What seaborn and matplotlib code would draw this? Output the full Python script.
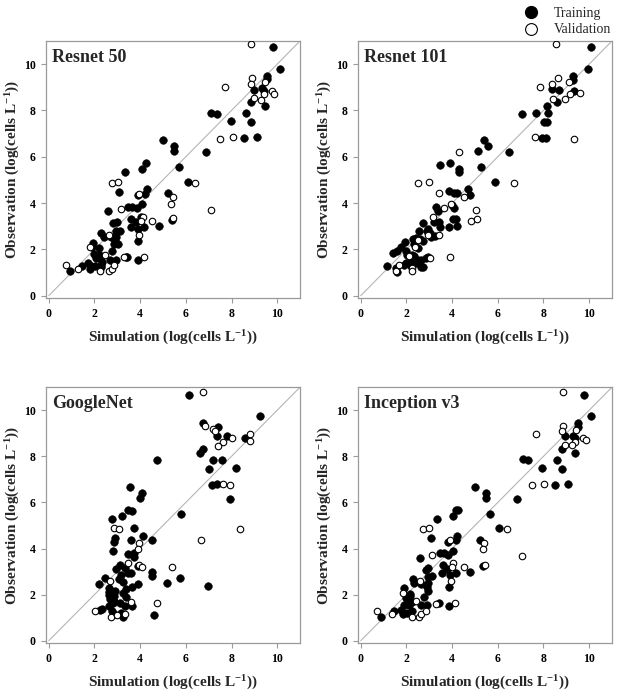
import matplotlib
matplotlib.use("Agg")
import matplotlib.pyplot as plt
from matplotlib.lines import Line2D
import seaborn as sns
import pandas as pd

# ---------------- data: (simulation, observation) ----------------
models = ["Resnet 50", "Resnet 101", "GoogleNet", "Inception v3"]

resnet50_train = [(9.83,10.72),(10.13,9.80),(9.54,9.49),(9.54,9.35),(8.98,8.89),(9.32,8.95),(9.42,8.83),(8.84,8.37),(9.45,8.18),(7.12,7.91),(7.35,7.86),(8.63,7.91),(7.98,7.53),(8.84,7.50),(8.55,6.81),(9.11,6.84),(5.01,6.71),(5.50,6.46),(5.50,6.23),(6.89,6.19),(4.27,5.71),(4.08,5.45),(3.35,5.34),(5.71,5.55),(6.10,4.93),(3.09,4.49),(4.28,4.59),(4.22,4.40),(3.89,4.34),(5.23,4.43),(4.06,3.94),(3.48,3.84),(3.64,3.84),(3.86,3.78),(2.61,3.64),(3.62,3.32),(4.02,3.39),(3.80,3.16),(5.40,3.28),(4.82,3.03),(2.99,3.17),(2.81,3.12),(3.58,2.96),(3.91,2.90),(4.19,2.95),(3.10,2.81),(2.96,2.79),(2.30,2.71),(2.40,2.54),(2.72,2.53),(2.96,2.52),(2.91,2.35),(2.87,2.22),(3.01,2.24),(3.89,2.35),(1.92,2.28),(1.89,2.12),(2.20,2.05),(2.77,1.92),(1.97,1.80),(2.18,1.77),(2.30,1.73),(2.05,1.63),(2.26,1.64),(2.66,1.56),(2.93,1.56),(3.36,1.67),(3.44,1.68),(3.92,1.56),(2.33,1.46),(2.30,1.34),(1.72,1.39),(1.87,1.27),(2.03,1.30),(1.47,1.30),(1.82,1.17),(0.92,1.07),(2.30,1.22)]
resnet50_val = [(8.87,10.87),(8.90,9.39),(8.87,9.13),(9.48,9.21),(7.72,9.03),(9.78,8.84),(9.87,8.73),(9.42,8.69),(8.98,8.53),(9.29,8.47),(7.50,6.78),(8.07,6.85),(2.75,4.88),(3.01,4.92),(6.42,4.86),(3.95,4.40),(5.45,4.26),(5.37,3.98),(3.17,3.75),(7.09,3.72),(4.11,3.41),(4.03,3.23),(4.53,3.23),(5.46,3.34),(2.62,2.60),(3.96,2.60),(1.82,2.11),(2.45,1.76),(3.31,1.66),(4.15,1.67),(0.74,1.34),(1.27,1.17),(2.26,1.07),(2.63,1.07),(2.75,1.17),(2.87,1.34)]

resnet101_train = [(10.10,10.72),(9.96,9.80),(9.29,9.49),(9.30,9.31),(8.39,8.93),(8.68,8.87),(9.35,8.83),(8.57,8.36),(8.16,8.18),(7.04,7.86),(7.69,7.91),(8.19,7.89),(8.04,7.50),(8.14,7.51),(7.94,6.81),(8.11,6.83),(5.41,6.71),(5.56,6.45),(5.15,6.25),(6.50,6.19),(3.46,5.66),(3.89,5.71),(4.28,5.45),(4.31,5.34),(5.25,5.55),(5.86,4.93),(4.68,4.60),(3.87,4.50),(4.07,4.42),(4.20,4.42),(4.78,4.33),(3.98,3.90),(4.09,3.77),(3.28,3.82),(3.38,3.64),(4.02,3.29),(4.16,3.32),(2.74,3.12),(3.21,3.16),(3.43,3.20),(3.49,2.97),(3.87,2.96),(4.22,3.03),(2.95,2.89),(2.88,2.79),(2.54,2.80),(3.03,2.71),(3.09,2.53),(3.26,2.57),(2.42,2.50),(2.29,2.43),(2.61,2.46),(2.71,2.35),(2.35,2.25),(2.52,2.05),(1.93,2.31),(1.78,2.11),(1.60,1.92),(1.42,1.83),(1.97,1.92),(2.03,1.76),(2.23,1.77),(2.23,1.56),(2.35,1.70),(2.84,1.63),(2.94,1.68),(2.64,1.56),(2.52,1.52),(2.40,1.42),(2.16,1.42),(1.91,1.32),(1.98,1.42),(1.15,1.27),(1.55,1.20),(1.60,1.04),(2.64,1.24),(2.72,1.24),(2.20,1.30)]
resnet101_val = [(8.53,10.87),(8.64,9.39),(9.11,9.21),(8.36,9.13),(7.84,9.03),(9.16,8.69),(9.58,8.74),(8.40,8.50),(8.92,8.49),(7.65,6.87),(9.32,6.78),(4.29,6.22),(2.49,4.88),(3.00,4.92),(6.69,4.86),(3.42,4.42),(4.50,4.26),(3.95,3.98),(3.63,3.77),(5.06,3.72),(3.15,3.41),(4.83,3.23),(5.08,3.32),(2.93,2.60),(3.41,2.60),(2.49,2.39),(2.39,2.11),(2.10,1.70),(3.03,1.63),(3.91,1.67),(1.53,1.07),(1.68,1.32),(2.23,1.20),(2.23,1.07)]

googlenet_train = [(6.16,10.67),(9.23,9.75),(6.74,9.46),(7.41,9.26),(7.35,8.90),(7.79,8.86),(8.57,8.78),(6.74,8.31),(6.64,8.13),(4.72,7.82),(7.18,7.86),(7.60,7.86),(7.03,7.46),(8.18,7.50),(7.15,6.77),(7.37,6.79),(3.57,6.67),(4.06,6.42),(3.98,6.19),(7.93,6.13),(3.47,5.66),(3.63,5.61),(5.81,5.51),(3.20,5.41),(2.75,5.28),(3.72,4.90),(2.91,4.45),(2.84,4.29),(4.12,4.55),(3.61,4.38),(4.51,4.37),(2.83,3.90),(3.48,3.76),(3.72,3.80),(3.75,3.63),(3.10,3.27),(3.89,3.22),(2.93,3.11),(3.32,3.14),(4.51,2.99),(4.51,2.81),(3.48,2.94),(3.61,2.92),(3.16,2.87),(2.45,2.73),(3.09,2.68),(5.76,2.73),(3.26,2.55),(3.92,2.48),(2.21,2.46),(5.18,2.50),(6.99,2.39),(3.64,2.32),(2.64,2.27),(2.90,2.17),(3.37,2.24),(3.26,2.06),(2.64,2.00),(2.87,1.96),(3.40,1.90),(2.68,1.81),(2.87,1.74),(3.13,1.64),(3.64,1.52),(3.35,1.52),(2.64,1.52),(2.35,1.38),(2.26,1.33),(2.75,1.27),(2.87,1.18),(3.15,1.21),(3.26,1.05),(4.59,1.13),(2.83,1.64),(2.64,2.10)]
googlenet_val = [(6.77,10.80),(6.82,9.32),(7.21,9.18),(7.27,9.09),(8.02,8.81),(7.63,8.64),(7.43,8.45),(8.81,8.98),(8.81,8.68),(7.63,6.81),(7.92,6.74),(2.87,4.90),(3.06,4.83),(8.37,4.83),(6.68,4.38),(3.93,4.22),(3.89,3.96),(3.48,3.37),(3.97,3.29),(4.06,3.19),(5.39,3.19),(2.68,2.58),(3.58,1.66),(4.73,1.62),(2.01,1.28),(2.73,1.05),(2.99,1.12),(3.33,1.17)]

inception_train = [(9.78,10.67),(10.09,9.75),(9.49,9.46),(9.49,9.27),(8.94,8.86),(9.27,8.90),(9.39,8.80),(8.79,8.32),(9.40,8.13),(7.09,7.88),(7.31,7.82),(8.61,7.86),(7.95,7.49),(8.79,7.46),(8.52,6.77),(9.09,6.79),(4.98,6.67),(5.48,6.42),(5.48,6.19),(6.86,6.13),(4.15,5.66),(4.25,5.67),(4.05,5.41),(5.67,5.51),(3.32,5.28),(6.05,4.90),(3.07,4.45),(4.22,4.55),(3.84,4.29),(4.19,4.36),(5.22,4.38),(4.03,3.90),(3.45,3.80),(3.64,3.80),(3.81,3.74),(2.58,3.60),(3.60,3.28),(3.77,3.11),(5.35,3.22),(2.84,3.07),(2.95,3.14),(3.57,2.94),(3.90,2.87),(4.19,2.92),(4.78,2.99),(2.93,2.75),(3.10,2.79),(2.29,2.68),(2.35,2.50),(2.65,2.45),(2.95,2.50),(2.88,2.31),(2.95,2.17),(3.87,2.32),(1.90,2.27),(2.16,2.03),(2.77,1.88),(1.96,1.84),(2.10,1.74),(2.23,1.67),(1.89,1.56),(2.13,1.53),(2.64,1.53),(2.88,1.53),(3.41,1.64),(3.88,1.51),(1.75,1.35),(1.84,1.17),(2.01,1.21),(2.23,1.28),(1.45,1.27),(0.89,1.04),(2.14,1.93)]
inception_val = [(8.84,10.80),(8.87,9.33),(8.83,9.09),(9.42,9.15),(7.68,8.98),(9.74,8.81),(9.84,8.70),(9.38,8.63),(8.92,8.48),(9.26,8.47),(7.49,6.74),(8.04,6.82),(2.74,4.83),(3.00,4.90),(6.40,4.83),(3.91,4.36),(5.41,4.22),(5.34,3.96),(3.14,3.71),(7.05,3.67),(4.06,3.37),(4.00,3.19),(4.51,3.19),(5.42,3.29),(2.61,2.58),(3.93,2.58),(1.84,2.08),(2.40,1.71),(3.28,1.60),(4.13,1.64),(0.73,1.28),(1.39,1.14),(2.23,1.05),(2.53,1.05),(2.62,1.17),(2.84,1.28)]

train_sets = [resnet50_train, resnet101_train, googlenet_train, inception_train]
val_sets = [resnet50_val, resnet101_val, googlenet_val, inception_val]

tick_values = [0, 2, 4, 6, 8, 10]
x_label = "Simulation (log(cells L$^{\\mathbf{-1}}$))"
y_label = "Observation (log(cells L$^{\\mathbf{-1}}$))"
legend_labels = ["Training", "Validation"]

# ---------------- style ----------------
sns.set_theme(style="white")
plt.rcParams["font.family"] = ["Liberation Serif", "DejaVu Serif"]
plt.rcParams["mathtext.fontset"] = "custom"
plt.rcParams["mathtext.rm"] = "Liberation Serif:bold"
plt.rcParams["mathtext.bf"] = "Liberation Serif:bold"
plt.rcParams["mathtext.it"] = "Liberation Serif:bold"

FRAME = "#9a9a9a"
DIAG = "#b5b5b5"

fig = plt.figure(figsize=(6.41, 6.99), dpi=100)

positions = [
    (0.0718, 0.5737, 0.3963, 0.3677),
    (0.5585, 0.5737, 0.3963, 0.3677),
    (0.0718, 0.0801, 0.3963, 0.3660),
    (0.5585, 0.0801, 0.3963, 0.3660),
]

for name, pos, tr, va in zip(models, positions, train_sets, val_sets):
    ax = fig.add_axes(pos)
    df_tr = pd.DataFrame(tr, columns=["sim", "obs"])
    df_va = pd.DataFrame(va, columns=["sim", "obs"])
    ax.plot([0, 11], [0, 11], color=DIAG, lw=0.8, zorder=1)
    sns.scatterplot(data=df_tr, x="sim", y="obs", ax=ax, color="black",
                    edgecolor="black", linewidth=0.4, s=30, legend=False, zorder=3)
    sns.scatterplot(data=df_va, x="sim", y="obs", ax=ax, color="white",
                    edgecolor="black", linewidth=0.8, s=22, legend=False, zorder=4)
    ax.set_xlim(-0.12, 11)
    ax.set_ylim(-0.1, 11)
    ax.set_xticks(tick_values)
    ax.set_yticks(tick_values)
    ax.set_xticklabels([str(t) for t in tick_values], fontsize=8.5, fontweight="bold")
    ax.set_yticklabels([str(t) for t in tick_values], fontsize=8.5, fontweight="bold")
    ax.tick_params(direction="out", length=3.5, width=0.8, color=FRAME,
                   labelcolor="black", pad=4, bottom=True, left=True)
    for sp in ax.spines.values():
        sp.set_color(FRAME)
        sp.set_linewidth(0.9)
    ax.set_xlabel(x_label, fontsize=11, fontweight="bold", labelpad=6)
    ax.set_ylabel(y_label, fontsize=11, fontweight="bold", labelpad=1)
    ax.text(0.025, 0.918, name, transform=ax.transAxes, fontsize=13,
            fontweight="bold", va="baseline", ha="left")

handles = [
    Line2D([], [], marker="o", ls="", markerfacecolor="black",
           markeredgecolor="black", markersize=8.5),
    Line2D([], [], marker="o", ls="", markerfacecolor="white",
           markeredgecolor="black", markeredgewidth=0.8, markersize=8.5),
]
fig.legend(handles, legend_labels, loc="upper left", bbox_to_anchor=(0.792, 1.004),
           frameon=False, fontsize=10, handletextpad=0.6, labelspacing=0.25,
           borderpad=0.2)

fig.savefig("out.png", dpi=100)
